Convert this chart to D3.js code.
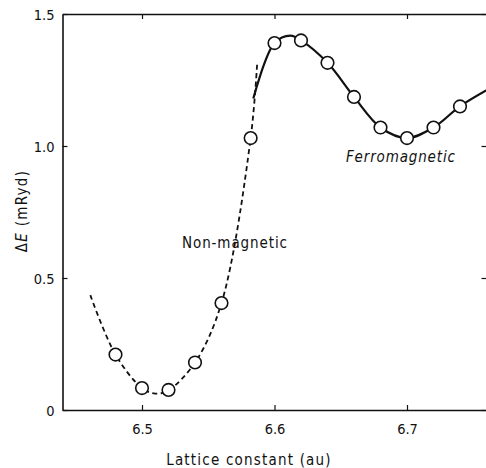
<!DOCTYPE html>
<html>
<head>
<meta charset="utf-8">
<script src="https://cdn.jsdelivr.net/npm/d3@7"></script>
<style>
  html, body { margin: 0; padding: 0; background: #fff; }
  text { font-family: "DejaVu Sans Condensed", "Liberation Sans Narrow", "DejaVu Sans", sans-serif; fill: #111; }
</style>
</head>
<body>
<div id="canvas"></div>
<script>
(function(d3){

  // measured points
  var nonMagX = [6.48, 6.50, 6.52, 6.54, 6.56, 6.582],
      nonMagY = [0.21, 0.083, 0.076, 0.18, 0.405, 1.03],
      ferroX = [6.60, 6.62, 6.64, 6.66, 6.68, 6.70, 6.72, 6.74],
      ferroY = [1.39, 1.40, 1.315, 1.186, 1.07, 1.03, 1.07, 1.15];

  // fitted curves (knots)
  var dashX = [6.461, 6.48, 6.50, 6.51, 6.52, 6.54, 6.56, 6.582, 6.587],
      dashY = [0.435, 0.21, 0.083, 0.062, 0.075, 0.18, 0.405, 1.03, 1.32],
      solidX = [6.584, 6.60, 6.612, 6.62, 6.64, 6.66, 6.68, 6.70, 6.72, 6.74, 6.765],
      solidY = [1.18, 1.39, 1.418, 1.40, 1.315, 1.186, 1.07, 1.03, 1.07, 1.15, 1.225];

  var xTicks = [6.5, 6.6, 6.7],
      yTicks = [0, 0.5, 1.0, 1.5],
      yTickLabels = ['0', '0.5', '1.0', '1.5'];

  var canvas_d = {width: 486, height: 468},
      x = d3.scaleLinear().domain([6.44, 6.76]).range([62.5, 486.5]),
      y = d3.scaleLinear().domain([0, 1.5]).range([410, 14]);

  var svg = d3.select('#canvas').append('svg')
      .attr('width', canvas_d.width)
      .attr('height', canvas_d.height);

  function zip(a, b) { return a.map(function(v, i){ return [v, b[i]]; }); }

  // axes
  var bottom = svg.append('g').attr('transform', 'translate(0,410)')
      .call(d3.axisBottom(x).tickValues(xTicks).tickSizeInner(-5).tickSizeOuter(0).tickPadding(14).tickFormat(d3.format('.1f')));
  var top = svg.append('g').attr('transform', 'translate(0,14)')
      .call(d3.axisTop(x).tickValues(xTicks).tickSizeInner(-5).tickSizeOuter(0).tickFormat(''));
  var left = svg.append('g').attr('transform', 'translate(62.5,0)')
      .call(d3.axisLeft(y).tickValues(yTicks).tickSizeInner(-5).tickSizeOuter(0).tickPadding(8)
        .tickFormat(function(d, i){ return yTickLabels[i]; }));
  var right = svg.append('g').attr('transform', 'translate(486.5,0)')
      .call(d3.axisRight(y).tickValues(yTicks).tickSizeInner(-5).tickSizeOuter(0).tickFormat(''));

  [bottom, top, left, right].forEach(function(g){
    g.select('.domain').attr('stroke', '#111').attr('stroke-width', 1.6);
    g.selectAll('.tick line').attr('stroke', '#111').attr('stroke-width', 1.2);
    g.selectAll('.tick text').attr('font-size', 14.5).attr('fill', '#111')
      .style('font-family', '"DejaVu Sans Condensed", "Liberation Sans Narrow", sans-serif');
  });
  left.selectAll('.tick text').attr('dy', '0.35em');

  // curves
  var line = d3.line()
      .x(function(d){ return x(d[0]); })
      .y(function(d){ return y(d[1]); })
      .curve(d3.curveCatmullRom.alpha(0.5));

  svg.append('path')
      .attr('d', line(zip(dashX, dashY)))
      .attr('fill', 'none').attr('stroke', '#111')
      .attr('stroke-width', 1.8).attr('stroke-dasharray', '5,3.5');

  svg.append('path')
      .attr('d', line(zip(solidX, solidY)))
      .attr('fill', 'none').attr('stroke', '#111')
      .attr('stroke-width', 2.2);

  // points
  svg.selectAll('circle.pt')
      .data(zip(nonMagX, nonMagY).concat(zip(ferroX, ferroY)))
    .enter().append('circle')
      .attr('class', 'pt')
      .attr('cx', function(d){ return x(d[0]); })
      .attr('cy', function(d){ return y(d[1]); })
      .attr('r', 6.3)
      .attr('fill', '#fff').attr('stroke', '#111').attr('stroke-width', 1.6);

  // labels
  svg.append('text')
      .attr('x', 182).attr('y', 248)
      .attr('font-size', 15).attr('letter-spacing', 0.9)
      .text('Non-magnetic');

  svg.append('text')
      .attr('x', 346).attr('y', 162)
      .attr('font-size', 15).attr('font-style', 'italic').attr('letter-spacing', 0.85)
      .text('Ferromagnetic');

  svg.append('text')
      .attr('x', 249).attr('y', 465)
      .attr('text-anchor', 'middle')
      .attr('font-size', 15).attr('letter-spacing', 1.2)
      .text('Lattice constant (au)');

  var yl = svg.append('text')
      .attr('transform', 'translate(27,211) rotate(-90)')
      .attr('text-anchor', 'middle')
      .attr('font-size', 15).attr('letter-spacing', 1.3);
  yl.append('tspan').text('\u0394');
  yl.append('tspan').attr('font-style', 'italic').text('E');
  yl.append('tspan').text(' (mRyd)');

})(d3);
</script>
</body>
</html>
